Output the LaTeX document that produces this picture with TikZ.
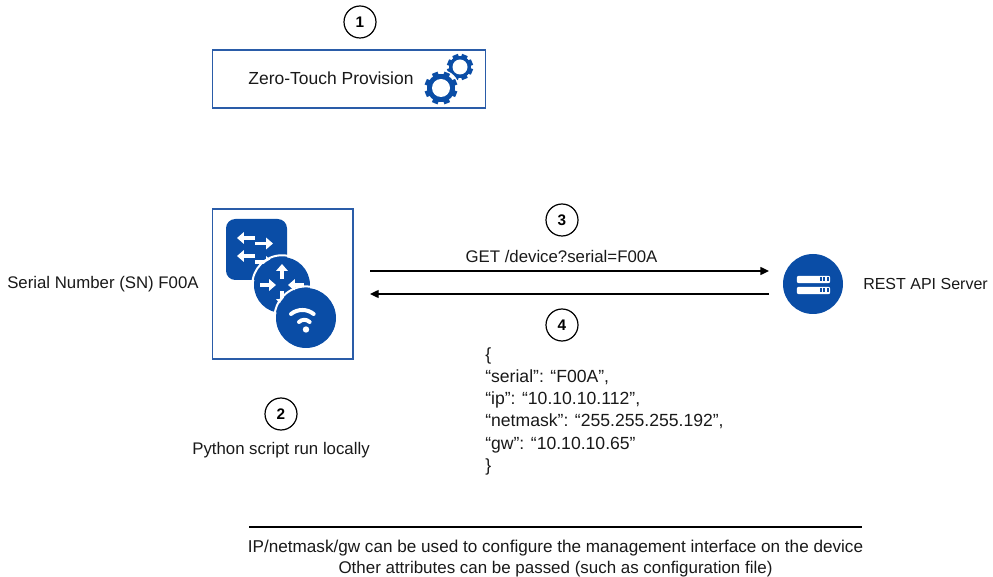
\documentclass[tikz,border=0pt]{standalone}
\usepackage{fontspec}
\setmainfont{Liberation Sans}
\usetikzlibrary{arrows.meta}
\definecolor{iconblue}{HTML}{0A4DA6}
\definecolor{boxblue}{HTML}{2A5CA8}
\tikzset{
	label text/.style={font=\fontsize{12.6pt}{14pt}\selectfont, text=black!90, inner sep=0pt},
	step mark/.style={draw, circle, line width=0.9pt, minimum size=24pt, inner sep=0pt, font=\fontsize{11.5pt}{13pt}\selectfont\bfseries},
	blue box/.style={draw=boxblue, line width=1pt, inner sep=0pt},
	link/.style={line width=1pt, -{Triangle[length=6.5pt,width=6pt]}},
	white arrow/.style={draw=white, line width=2.6pt, -{Triangle[length=5.2pt,width=8.6pt]}},
	wifi arc/.style={draw=white, line width=3pt, line cap=round}
}
\def\gearicon(#1)(#2:#3:#4){
	\begin{scope}[shift={(#1)}]
		\fill[white] (0, 0) circle ({(#2+1.5)*0.75pt});
		\foreach \a in {0,45,...,135}
			\fill[iconblue, rotate=\a+22.5] (-3, {-#2}) rectangle (3, #2);
		\fill[iconblue] (0, 0) circle ({#3*0.75pt});
		\fill[white] (0, 0) circle ({#4*0.75pt});
	\end{scope}
}
\begin{document}
\begin{tikzpicture}[x=0.75pt, y=-0.75pt]
			%%%%% START %%%%%
			\useasboundingbox (0, 0) rectangle (993, 577);
			
			\node[step mark] (stepone) at (360, 22) {1};
			\node[blue box, minimum width=205pt, minimum height=43.5pt] (ztpbox) at (349, 79) {};
			\node[label text, font=\fontsize{13.1pt}{14pt}\selectfont] (ztplabel) at (331, 78) {Zero-Touch Provision};
			
			\gearicon(460, 67)(13:11:7.5);
			\gearicon(441, 88)(16.5:14:9);
			
			\node[blue box, minimum width=105.5pt, minimum height=112.5pt] (devbox) at (282.5, 284) {};
			
			\fill[iconblue, rounded corners=7pt] (226, 219) rectangle (287, 280);
			\draw[white arrow] (255, 238) -- (237, 238);
			\draw[white arrow] (255, 243.5) -- (273, 243.5);
			\draw[white arrow] (255, 256) -- (237, 256);
			\draw[white arrow] (255, 262) -- (273, 262);
			
			\fill[iconblue] (282, 285) circle (21pt);
			\draw[white, line width=1.5pt] (282, 285) circle (22.3pt);
			\draw[white arrow] (282, 279) -- (282, 264);
			\draw[white arrow] (260, 285) -- (276, 285);
			\draw[white arrow] (304, 285) -- (288, 285);
			\draw[white arrow] (282, 291) -- (282, 306);
			
			\fill[iconblue] (306, 318) circle (22.5pt);
			\draw[white, line width=1.5pt] (306, 318) circle (23.7pt);
			\draw[wifi arc] (291, 314) arc (231:309:18);
			\draw[wifi arc] (299, 322) arc (225:315:7.5);
			\fill[white] (306, 329.5) circle (2.4pt);
			
			\node[label text, anchor=west] (snlabel) at (7, 284) {Serial Number (SN) F00A};
			\node[step mark] (steptwo) at (281, 414) {2};
			\node[label text] (pylabel) at (281, 450) {Python script run locally};
			
			\fill[iconblue] (813, 284) circle (22.5pt);
			\node[fill=white, rounded corners=1.5pt, minimum width=25pt, minimum height=5.6pt, inner sep=0pt] (rackone) at (813.5, 279.5) {};
			\node[fill=white, rounded corners=1.5pt, minimum width=25pt, minimum height=5.6pt, inner sep=0pt] (racktwo) at (813.5, 290.5) {};
			\foreach \x in {819.5, 823, 826.5} {
				\fill[iconblue] (\x, 277.5) rectangle +(2, 4);
				\fill[iconblue] (\x, 288.5) rectangle +(2, 4);
			}
			\node[label text, anchor=west, font=\fontsize{12pt}{14pt}\selectfont] (restlabel) at (863, 284) {REST API Server};
			
			\coordinate (gettail) at (370, 271);
			\coordinate (gethead) at (769, 271);
			\coordinate (replytail) at (769, 294);
			\coordinate (replyhead) at (370, 294);
			\draw[link] (gettail) -- (gethead);
			\draw[link] (replytail) -- (replyhead);
			
			\node[step mark] (stepthree) at (562, 220) {3};
			\node[label text] (getlabel) at (561.5, 256) {GET /device?serial=F00A};
			\node[step mark] (stepfour) at (562, 325) {4};
			
			\node[label text, anchor=north west, align=left, font=\fontsize{13.2pt}{16.6pt}\selectfont] (replybody) at (485, 347.5) {\{\\“serial”: “F00A”,\\“ip”: “10.10.10.112”,\\“netmask”: “255.255.255.192”,\\“gw”: “10.10.10.65”\\\}};
			
			\coordinate (ruleleft) at (249, 527);
			\coordinate (ruleright) at (862, 527);
			\draw[line width=1pt] (ruleleft) -- (ruleright);
			\node[label text, font=\fontsize{12.85pt}{14pt}\selectfont] (noteone) at (555.5, 548) {IP/netmask/gw can be used to configure the management interface on the device};
			\node[label text, font=\fontsize{12.7pt}{14pt}\selectfont] (notetwo) at (555.5, 569) {Other attributes can be passed (such as configuration file)};
			
			%%%%% END %%%%%
\end{tikzpicture}
\end{document}
